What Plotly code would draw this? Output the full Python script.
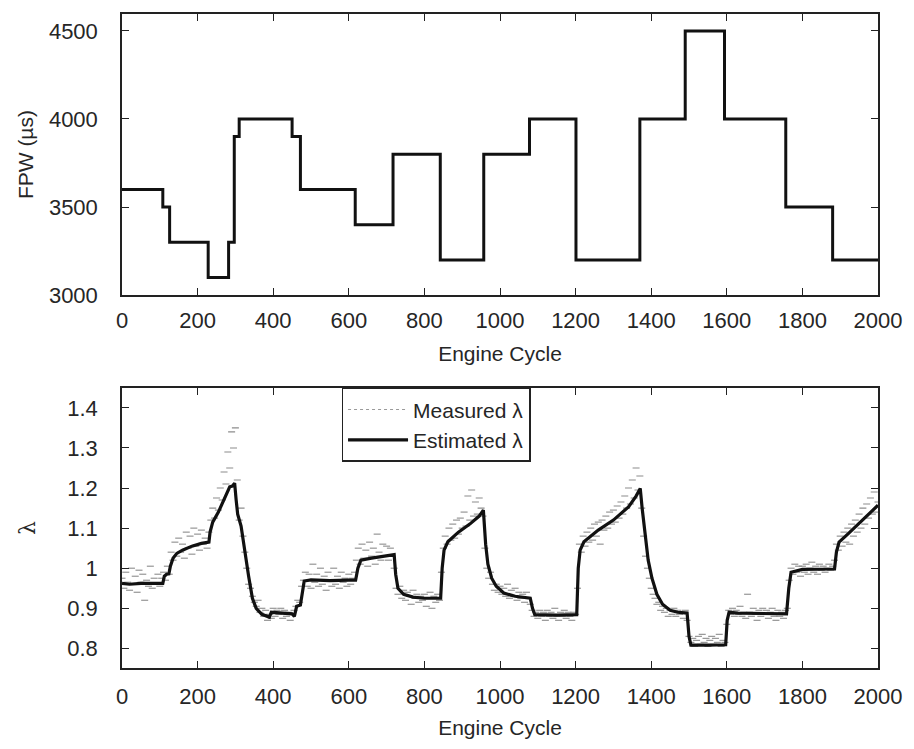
import plotly.graph_objects as go

# ---- Top panel: fuel pulse width (step changes) ----
fpw_cycle = [0, 108, 126, 228, 282, 297, 310, 450, 472, 617, 717, 842, 957, 1078,
             1201, 1370, 1490, 1594, 1756, 1880, 2000]
fpw_us = [3600, 3500, 3300, 3100, 3300, 3900, 4000, 3900, 3600, 3400, 3800, 3200,
          3800, 4000, 3200, 4000, 4500, 4000, 3500, 3200, 3200]

# ---- Bottom panel: estimated lambda ----
est_cycle = [0, 20, 50, 80, 108, 112, 118, 124, 128, 135, 145, 160, 185, 210, 230, 233,
             240, 255, 270, 285, 292, 298, 302, 306, 315, 325, 335, 345, 355, 370, 390,
             395, 420, 450, 456, 462, 472, 477, 482, 500, 550, 600, 618, 624, 632, 660,
             700, 720, 724, 730, 745, 770, 800, 843, 847, 852, 862, 890, 920, 945, 956,
             962, 968, 978, 990, 1010, 1040, 1080, 1086, 1092, 1150, 1203, 1207, 1212,
             1222, 1260, 1300, 1340, 1360, 1371, 1376, 1382, 1392, 1402, 1415, 1430,
             1450, 1470, 1495, 1500, 1505, 1550, 1597, 1601, 1606, 1630, 1700, 1758,
             1764, 1770, 1800, 1850, 1885, 1890, 1897, 1920, 1960, 2000]
est_lambda = [0.962, 0.960, 0.962, 0.961, 0.962, 0.980, 0.985, 0.986, 1.005, 1.025, 1.037,
              1.045, 1.055, 1.062, 1.065, 1.090, 1.115, 1.140, 1.170, 1.203, 1.205, 1.212,
              1.170, 1.135, 1.105, 1.040, 0.980, 0.925, 0.900, 0.885, 0.878, 0.890, 0.889,
              0.886, 0.880, 0.905, 0.908, 0.940, 0.968, 0.971, 0.969, 0.970, 0.970, 1.000,
              1.020, 1.025, 1.030, 1.034, 0.985, 0.950, 0.935, 0.928, 0.925, 0.925, 1.000,
              1.045, 1.066, 1.090, 1.110, 1.130, 1.145, 1.060, 1.010, 0.975, 0.955, 0.938,
              0.930, 0.925, 0.900, 0.884, 0.883, 0.884, 1.000, 1.045, 1.066, 1.095, 1.120,
              1.153, 1.180, 1.199, 1.150, 1.100, 1.020, 0.975, 0.935, 0.910, 0.895, 0.890,
              0.888, 0.830, 0.808, 0.808, 0.809, 0.870, 0.890, 0.888, 0.886, 0.886, 0.950,
              0.990, 0.997, 0.998, 0.998, 1.040, 1.065, 1.085, 1.120, 1.157]

# ---- Bottom panel: measured lambda (every 5 cycles) ----
meas_cycle = list(range(0, 2001, 5))
meas_lambda = [
    0.975, 0.950, 0.990, 0.965, 0.945, 1.000, 0.960, 0.980, 0.940, 0.995,
    0.965, 0.985, 0.920, 0.970, 0.955, 1.005, 0.950, 0.975, 0.960, 0.985,
    0.955, 0.975, 0.990, 0.970, 1.005, 0.985, 1.040, 1.020, 1.065, 1.030,
    1.075, 1.040, 1.060, 1.025, 1.090, 1.050, 1.080, 1.035, 1.100, 1.055,
    1.085, 1.045, 1.095, 1.060, 1.075, 1.050, 1.090, 1.120, 1.150, 1.125,
    1.175, 1.145, 1.200, 1.170, 1.240, 1.210, 1.290, 1.250, 1.340, 1.300,
    1.350, 1.220, 1.120, 1.150, 1.080, 1.040, 1.000, 0.960, 0.950, 0.930,
    0.915, 0.905, 0.920, 0.890, 0.900, 0.880, 0.895, 0.870, 0.885, 0.875,
    0.900, 0.880, 0.895, 0.885, 0.900, 0.875, 0.895, 0.880, 0.890, 0.870,
    0.885, 0.895, 0.905, 0.920, 0.915, 0.955, 0.970, 0.990, 0.955, 0.985,
    0.950, 1.010, 0.965, 0.985, 0.955, 1.000, 0.960, 0.980, 0.945, 0.990,
    0.970, 0.955, 1.000, 0.960, 0.980, 0.950, 0.990, 0.965, 0.975, 0.955,
    0.985, 0.960, 0.975, 0.990, 1.020, 1.050, 1.010, 1.060, 1.025, 1.045,
    1.005, 1.065, 1.030, 1.050, 1.010, 1.085, 1.040, 1.020, 1.060, 1.030,
    1.055, 1.020, 1.050, 1.030, 1.000, 0.950, 0.935, 0.955, 0.925, 0.945,
    0.920, 0.940, 0.930, 0.910, 0.945, 0.925, 0.935, 0.915, 0.930, 0.920,
    0.935, 0.905, 0.925, 0.940, 0.900, 0.930, 0.915, 0.935, 0.920, 0.990,
    1.050, 1.080, 1.060, 1.100, 1.070, 1.110, 1.075, 1.120, 1.085, 1.125,
    1.100, 1.140, 1.105, 1.180, 1.120, 1.195, 1.130, 1.165, 1.135, 1.175,
    1.150, 1.130, 1.050, 1.000, 0.975, 0.990, 0.960, 0.945, 0.960, 0.940,
    0.955, 0.935, 0.950, 0.930, 0.960, 0.925, 0.945, 0.930, 0.950, 0.920,
    0.940, 0.925, 0.935, 0.915, 0.940, 0.925, 0.910, 0.895, 0.880, 0.890,
    0.875, 0.895, 0.880, 0.890, 0.870, 0.895, 0.880, 0.890, 0.875, 0.900,
    0.880, 0.870, 0.890, 0.880, 0.895, 0.875, 0.890, 0.880, 0.870, 0.890,
    0.885, 0.950, 1.060, 1.040, 1.080, 1.055, 1.090, 1.065, 1.100, 1.070,
    1.110, 1.080, 1.115, 1.060, 1.120, 1.095, 1.130, 1.100, 1.140, 1.110,
    1.145, 1.115, 1.155, 1.125, 1.165, 1.135, 1.180, 1.150, 1.200, 1.160,
    1.220, 1.175, 1.250, 1.195, 1.230, 1.150, 1.080, 1.030, 1.000, 0.975,
    0.950, 0.935, 0.925, 0.910, 0.915, 0.895, 0.905, 0.890, 0.900, 0.880,
    0.895, 0.885, 0.900, 0.880, 0.895, 0.885, 0.890, 0.875, 0.895, 0.870,
    0.830, 0.815, 0.825, 0.805, 0.820, 0.830, 0.810, 0.835, 0.815, 0.825,
    0.805, 0.820, 0.830, 0.810, 0.825, 0.815, 0.835, 0.805, 0.820, 0.815,
    0.860, 0.895, 0.885, 0.900, 0.880, 0.895, 0.885, 0.905, 0.880, 0.890,
    0.875, 0.935, 0.890, 0.880, 0.900, 0.885, 0.870, 0.895, 0.880, 0.900,
    0.885, 0.895, 0.875, 0.890, 0.900, 0.880, 0.870, 0.895, 0.880, 0.890,
    0.875, 0.895, 0.900, 0.970, 1.000, 0.985, 1.010, 0.990, 1.005, 0.980,
    1.005, 0.990, 1.010, 0.985, 1.000, 1.015, 0.990, 1.005, 0.985, 1.010,
    0.995, 1.005, 0.990, 1.000, 1.010, 0.995, 1.005, 1.020, 1.060, 1.045,
    1.080, 1.055, 1.090, 1.065, 1.100, 1.060, 1.110, 1.080, 1.120, 1.090,
    1.135, 1.100, 1.150, 1.110, 1.160, 1.125, 1.175, 1.135, 1.190, 1.140,
    1.165]

x_ticks = list(range(0, 2001, 200))
fpw_ticks = [3000, 3500, 4000, 4500]
lam_ticks = [0.8, 0.9, 1.0, 1.1, 1.2, 1.3, 1.4]
lam_ticktext = ["0.8", "0.9", "1", "1.1", "1.2", "1.3", "1.4"]

FONT = "Liberation Sans, Arial, sans-serif"
TXT = "#262626"

fig = go.Figure()
fig.add_trace(go.Scatter(x=fpw_cycle, y=fpw_us, mode="lines", line_shape="hv",
                         line=dict(color="#111111", width=3), showlegend=False,
                         xaxis="x", yaxis="y"))
# measured samples drawn as short grey dashes
fig.add_trace(go.Scatter(x=meas_cycle, y=meas_lambda, mode="markers", showlegend=False,
                         hoverinfo="skip",
                         marker=dict(symbol="line-ew", size=5,
                                     line=dict(color="#8c8c8c", width=1.1)),
                         xaxis="x2", yaxis="y2"))
# legend entry for the measured (dotted) signal
fig.add_trace(go.Scatter(x=[None], y=[None], mode="lines", name="Measured λ",
                         line=dict(color="#9a9a9a", width=1.2, dash="dot"),
                         xaxis="x2", yaxis="y2"))
fig.add_trace(go.Scatter(x=est_cycle, y=est_lambda, mode="lines", name="Estimated λ",
                         line=dict(color="#111111", width=3.2),
                         xaxis="x2", yaxis="y2"))

axis_common = dict(showline=True, mirror="ticks", linecolor="#222222", linewidth=1.5,
                   ticks="inside", ticklen=7, tickwidth=1.2, tickcolor="#222222",
                   showgrid=False, zeroline=False,
                   tickfont=dict(family=FONT, size=22, color=TXT))

fig.update_layout(
    width=914, height=749,
    margin=dict(l=122, r=31, t=12, b=81),
    paper_bgcolor="white", plot_bgcolor="white",
    font=dict(family=FONT, size=22, color=TXT),
    xaxis=dict(domain=[0, 1], anchor="y", range=[0, 2000], tickvals=x_ticks,
               ticklabelstandoff=5,
               title=dict(text="Engine Cycle", standoff=14, font=dict(size=21)),
               **axis_common),
    yaxis=dict(domain=[0.5701, 1], anchor="x", range=[3000, 4596], tickvals=fpw_ticks,
               ticklabelstandoff=18,
               title=dict(text="FPW (µs)", standoff=10, font=dict(size=21)),
               **axis_common),
    xaxis2=dict(domain=[0, 1], anchor="y2", range=[0, 2000], tickvals=x_ticks,
                ticklabelstandoff=8,
                title=dict(text="Engine Cycle", standoff=12, font=dict(size=21)),
                **axis_common),
    yaxis2=dict(domain=[0, 0.4284], anchor="x2", range=[0.751, 1.45], tickvals=lam_ticks,
                ticktext=lam_ticktext, ticklabelstandoff=18,
                title=dict(text="λ", standoff=26, font=dict(size=22, family="DejaVu Serif")),
                **axis_common),
    legend=dict(x=0.2904, y=0.4284, xanchor="left", yanchor="top",
                bgcolor="white", bordercolor="#222222", borderwidth=1.5,
                font=dict(family=FONT, size=21, color=TXT),
                itemwidth=60, tracegroupgap=0),
)

fig.write_html("out.html")
